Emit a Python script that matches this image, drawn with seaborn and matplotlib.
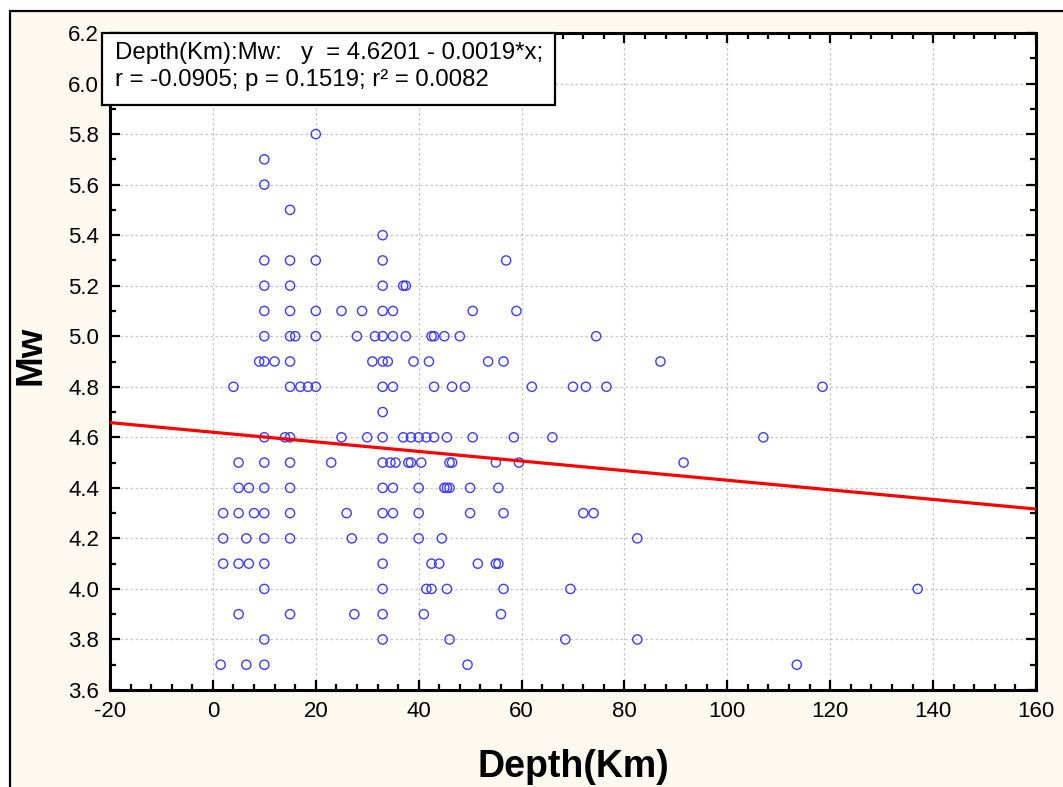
import numpy as np
import pandas as pd
import matplotlib
matplotlib.use("Agg")
import matplotlib.pyplot as plt
import matplotlib.patches as patches
from matplotlib.ticker import MultipleLocator, FormatStrFormatter
import seaborn as sns

# Mw 값별 깊이(Km) - 그림에서 읽은 값
mw_levels = [5.8, 5.7, 5.6, 5.5, 5.4, 5.3, 5.2, 5.1, 5.0, 4.9, 4.8, 4.7,
             4.6, 4.5, 4.4, 4.3, 4.2, 4.1, 4.0, 3.9, 3.8, 3.7]
depths_by_level = [
    [20],
    [10],
    [10],
    [15],
    [33],
    [10, 15, 20, 33, 57],
    [10, 15, 33, 37, 37.5],
    [10, 15, 20, 25, 29, 33, 35, 50.5, 59],
    [10, 15, 16, 20, 28, 31.5, 33, 35, 37.5, 42.5, 43, 45, 48, 74.5],
    [9, 10, 12, 15, 31, 33, 34, 39, 42, 53.5, 56.5, 87],
    [4, 15, 17, 18.5, 20, 33, 35, 43, 46.5, 49, 62, 70, 72.5, 76.5, 118.5],
    [33],
    [10, 14, 15, 25, 30, 33, 37, 38.5, 40, 41.5, 43, 45.5, 50.5, 58.5, 66, 107],
    [5, 10, 15, 23, 33, 34.5, 35.5, 38, 38.5, 40.5, 46, 46.5, 55, 59.5, 91.5],
    [5, 7, 10, 15, 33, 35, 40, 45, 45.5, 46, 50, 55.5],
    [2, 5, 8, 10, 15, 26, 33, 35, 40, 50, 56.5, 72, 74],
    [2, 6.5, 10, 15, 27, 33, 40, 44.5, 82.5],
    [2, 5, 7, 10, 33, 42.5, 44, 51.5, 55, 55.5],
    [10, 33, 41.5, 42.5, 45.5, 56.5, 69.5, 137],
    [5, 15, 27.5, 33, 41, 56],
    [10, 33, 46, 68.5, 82.5],
    [1.5, 6.5, 10, 49.5, 113.5],
]

# 회귀식 계수
intercept = 4.6201
slope = -0.0019
stats_line1 = "Depth(Km):Mw:"
stats_eq = "y  = 4.6201 - 0.0019*x;"
stats_line2 = "r = -0.0905; p = 0.1519; r\u00b2 = 0.0082"

rows = []
for mw, ds in zip(mw_levels, depths_by_level):
    for d in ds:
        rows.append((d, mw))
df = pd.DataFrame(rows, columns=["Depth(Km)", "Mw"])

sns.set_style("white")
plt.rcParams['font.family'] = ['Liberation Sans', 'DejaVu Sans']
plt.rcParams['axes.unicode_minus'] = False
plt.rcParams['text.color'] = 'black'
plt.rcParams['axes.labelcolor'] = 'black'
plt.rcParams['xtick.color'] = 'black'
plt.rcParams['ytick.color'] = 'black'

cream = '#fdf9f0'
fig = plt.figure(figsize=(10.63, 7.87), dpi=100)
fig.patch.set_facecolor('white')
# 바깥 테두리
frame = patches.Rectangle((10 / 1063, -0.05), 1.2, 1 - 11 / 787 + 0.05,
                          transform=fig.transFigure, facecolor=cream,
                          edgecolor='black', linewidth=1.6, zorder=-10)
fig.patches.append(frame)

ax = fig.add_axes([110 / 1063, 1 - 690 / 787, 926 / 1063, 657 / 787])
ax.set_facecolor('white')

ax.grid(True, which='major', color='#c4c4c4', linestyle=(0, (2, 2)), linewidth=0.9)
ax.set_axisbelow(True)

sns.scatterplot(data=df, x="Depth(Km)", y="Mw", ax=ax, marker='o',
                facecolor='none', edgecolor='#3c3cff', s=44, linewidth=1.0,
                zorder=3)

x_line = np.array([-20, 160])
sns.lineplot(x=x_line, y=intercept + slope * x_line, ax=ax, color='red',
             linewidth=2.3, zorder=4)

ax.set_xlim(-20, 160)
ax.set_ylim(3.6, 6.2)
ax.xaxis.set_major_locator(MultipleLocator(20))
ax.xaxis.set_minor_locator(MultipleLocator(4))
ax.yaxis.set_major_locator(MultipleLocator(0.2))
ax.yaxis.set_minor_locator(MultipleLocator(0.1))
ax.yaxis.set_major_formatter(FormatStrFormatter('%.1f'))

ax.tick_params(which='both', direction='in', top=True, right=True,
               bottom=True, left=True, width=1.6, labelsize=16, pad=8)
ax.tick_params(which='major', length=7)
ax.tick_params(which='minor', length=4)
for s in ax.spines.values():
    s.set_linewidth(2.2)
    s.set_color('black')

ax.set_xlabel("Depth(Km)", fontsize=27, fontweight='bold')
ax.set_ylabel("Mw", fontsize=26.5, fontweight='bold')
ax.xaxis.set_label_coords(0.5, -0.09)
ax.yaxis.set_label_coords(-0.066, 0.51)

# 통계 박스
box = patches.Rectangle((102 / 1063, 1 - 105 / 787), 453 / 1063, 72 / 787,
                        transform=fig.transFigure, facecolor='white',
                        edgecolor='black', linewidth=1.6, zorder=10)
fig.patches.append(box)
fig.text(115 / 1063, 1 - 53 / 787, stats_line1, fontsize=17.3, va='center', zorder=11)
fig.text(301 / 1063, 1 - 53 / 787, stats_eq, fontsize=17.3, va='center', zorder=11)
fig.text(115 / 1063, 1 - 80 / 787, stats_line2, fontsize=17.3, va='center', zorder=11)

fig.savefig("out.png", dpi=100, facecolor=fig.get_facecolor())
